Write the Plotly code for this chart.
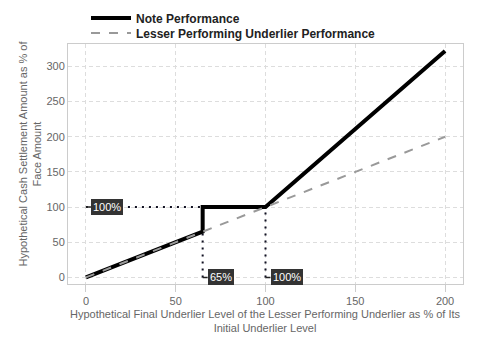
import plotly.graph_objects as go

note_x = [0, 65, 65, 100, 200]
note_y = [0, 65, 100, 100, 322]
under_x = [0, 200]
under_y = [0, 200]

ref_h_x = [0, 100]
ref_h_y = [100, 100]
ref_v1_x = [65, 65]
ref_v1_y = [0, 65]
ref_v2_x = [100, 100]
ref_v2_y = [0, 100]

labels = [(0, 100, "100%"), (65, 0, "65%"), (100, 0, "100%")]

x_title = "Hypothetical Final Underlier Level of the Lesser Performing Underlier as % of Its<br>Initial Underlier Level"
y_title = "Hypothetical Cash Settlement Amount as % of<br>Face Amount"

fig = go.Figure()
for xs, ys in [(ref_h_x, ref_h_y), (ref_v1_x, ref_v1_y), (ref_v2_x, ref_v2_y)]:
    fig.add_trace(go.Scatter(x=xs, y=ys, mode="lines", showlegend=False,
                             line=dict(color="#111122", width=2, dash="2px,5px"), hoverinfo="skip"))
fig.add_trace(go.Scatter(x=note_x, y=note_y, mode="lines", name="Note Performance",
                         line=dict(color="black", width=4), legend="legend"))
fig.add_trace(go.Scatter(x=under_x, y=under_y, mode="lines", name="Lesser Performing Underlier Performance",
                         line=dict(color="#999999", width=2, dash="dash"), legend="legend2"))

for x, y, t in labels:
    fig.add_annotation(x=x, y=y, text=t, showarrow=True, arrowhead=0, arrowwidth=1.5,
                       arrowcolor="#222222", ax=5, ay=0, xanchor="left",
                       bgcolor="#333333", bordercolor="#333333", borderpad=1,
                       font=dict(color="white", size=11, family="Liberation Sans, Arial"))

# axis titles as annotations for exact placement
fig.add_annotation(text=x_title, xref="paper", yref="paper", x=0.5, y=-(306 - 284) / 240,
                   xanchor="center", yanchor="top", showarrow=False,
                   font=dict(size=11, color="#666666"))
fig.add_annotation(text=y_title, xref="paper", yref="paper", x=(29 - 68) / 395, y=(284 - 153.5) / 240,
                   xanchor="center", yanchor="middle", showarrow=False, textangle=-90,
                   font=dict(size=11, color="#666666"))

axis_common = dict(showgrid=True, gridcolor="#dddddd", griddash="4px,3px", gridwidth=1,
                   showline=True, linecolor="#cccccc", linewidth=1, mirror=True,
                   zeroline=False, tickfont=dict(size=11, color="#666666"), automargin=False)

fig.update_xaxes(range=[-10, 210], tickvals=[0, 50, 100, 150, 200],
                 ticks="outside", ticklen=7, tickcolor="#cccccc", **axis_common)
fig.update_yaxes(range=[-9.4, 332], tickvals=[0, 50, 100, 150, 200, 250, 300],
                 ticks="", **axis_common)

leg_common = dict(xanchor="left", yanchor="middle", xref="container", yref="container",
                  font=dict(size=12, color="#222222", family="Liberation Sans, Arial", weight="bold"),
                  bgcolor="rgba(0,0,0,0)", itemwidth=40)

fig.update_layout(
    width=480, height=360,
    margin=dict(l=68, r=17, t=44, b=76, autoexpand=False),
    plot_bgcolor="white", paper_bgcolor="white",
    font=dict(family="Liberation Sans, Arial", color="#666666"),
    legend=dict(x=86 / 480, y=1 - 18 / 360, **leg_common),
    legend2=dict(x=86 / 480, y=1 - 33 / 360, **leg_common),
)

fig.write_html("out.html", config={"displayModeBar": False},
               post_script="document.body.style.margin='0';")
